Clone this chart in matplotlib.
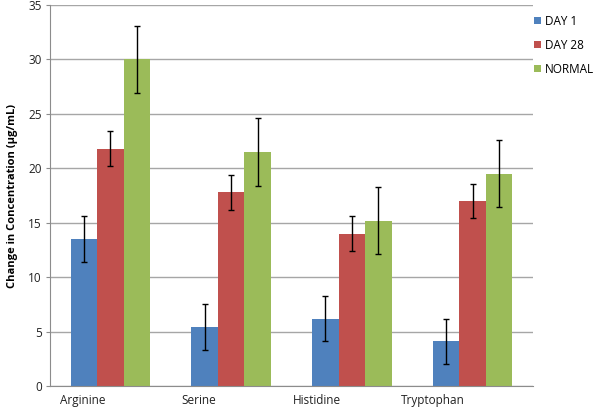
import matplotlib
matplotlib.use("Agg")
import matplotlib.pyplot as plt
import numpy as np

# ==============================
# data
# ==============================
categories = ["Arginine", "Serine", "Histidine", "Tryptophan"]
series_names = ["DAY 1", "DAY 28", "NORMAL"]

day1 = [13.5, 5.4, 6.2, 4.1]
day28 = [21.8, 17.8, 14.0, 17.0]
normal = [30.0, 21.5, 15.2, 19.5]

day1_err = [2.1, 2.1, 2.1, 2.1]
day28_err = [1.6, 1.6, 1.6, 1.6]
normal_err = [3.1, 3.1, 3.1, 3.1]

yticks = [0, 5, 10, 15, 20, 25, 30, 35]

colors = ["#4F81BD", "#C0504D", "#9BBB59"]

# ==============================
# plot
# ==============================
plt.rcParams["font.family"] = ["Open Sans", "DejaVu Sans"]

fig = plt.figure(figsize=(5.98, 4.13), dpi=100)
ax = fig.add_axes([50 / 598, 27 / 413, 483 / 598, 381 / 413])

x = np.arange(len(categories))
width = 0.22
values = [day1, day28, normal]
errors = [day1_err, day28_err, normal_err]

for i, (vals, errs) in enumerate(zip(values, errors)):
    ax.bar(x + (i - 1) * width, vals, width, color=colors[i], label=series_names[i],
           zorder=2, yerr=errs, capsize=2.5,
           error_kw=dict(ecolor="black", elinewidth=1, capthick=1))

ax.set_xlim(-0.5, len(categories) - 0.5)
ax.set_ylim(0, 35)
ax.set_yticks(yticks)
ax.tick_params(axis="y", labelsize=8.5, length=3, color="#8C8C8C", colors="#222222", pad=3)

# category labels sit a bit left of the group centre in the original
label_shift = [-0.23, -0.27, -0.29, -0.33]
ax.set_xticks(x + np.array(label_shift))
ax.set_xticklabels(categories)
ax.tick_params(axis="x", labelsize=8.5, length=0, colors="#222222", pad=6)

ax.grid(axis="y", color="#A6A6A6", linewidth=1, zorder=0)
ax.set_axisbelow(True)
for s in ["top", "right"]:
    ax.spines[s].set_visible(False)
ax.spines["left"].set_color("#8C8C8C")
ax.spines["bottom"].set_color("#8C8C8C")

ax.set_ylabel("Change in Concentration (µg/mL)", fontsize=8, fontweight="bold",
              labelpad=7)

leg = ax.legend(loc="upper left", bbox_to_anchor=(1.003, 0.975), frameon=False,
                fontsize=8.5, handlelength=0.55, handleheight=0.55,
                handletextpad=0.35, labelspacing=0.95, borderaxespad=0.0,
                borderpad=0.0)

plt.savefig("out.png", dpi=100)
plt.close()
